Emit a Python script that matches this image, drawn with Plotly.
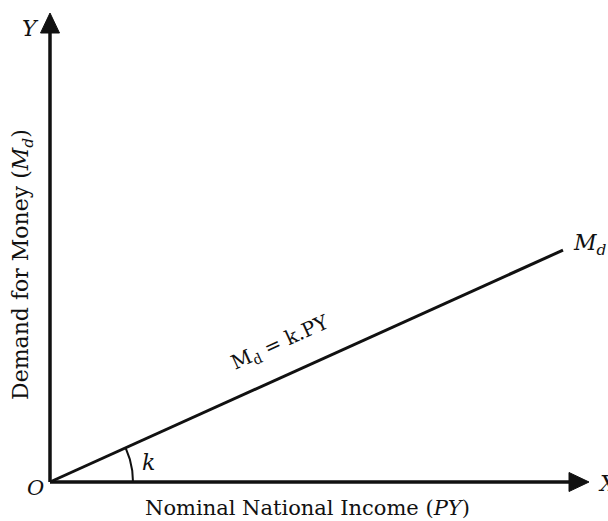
import numpy as np
import plotly.graph_objects as go

# ---- data ----
income = [0, 513]          # Nominal National Income (PY)
k_value = 0.452            # slope k
demand = [k_value * v for v in income]   # Md = k.PY
x_label = "Nominal National Income (<i>PY</i>)"
y_label = "Demand for Money (<i>M<sub>d</sub></i>)"
curve_label = "<i>M<sub>d</sub></i>"
eq_label = "M<sub>d</sub> = k.PY"

FONT = "DejaVu Serif"
BLACK = "#111111"

fig = go.Figure()

# axes lines
fig.add_trace(go.Scatter(x=[0, 0], y=[0, 452], mode="lines",
                         line=dict(color=BLACK, width=3.5), hoverinfo="skip"))
fig.add_trace(go.Scatter(x=[0, 522], y=[0, 0], mode="lines",
                         line=dict(color=BLACK, width=3.5), hoverinfo="skip"))
# arrow heads
fig.add_trace(go.Scatter(x=[-9.5, 0, 9.5, -9.5], y=[449, 469, 449, 449], mode="lines",
                         fill="toself", fillcolor=BLACK, line=dict(color=BLACK, width=1),
                         hoverinfo="skip"))
fig.add_trace(go.Scatter(x=[519, 539, 519, 519], y=[-9.5, 0, 9.5, -9.5], mode="lines",
                         fill="toself", fillcolor=BLACK, line=dict(color=BLACK, width=1),
                         hoverinfo="skip"))

# Md line
fig.add_trace(go.Scatter(x=income, y=demand, mode="lines",
                         line=dict(color=BLACK, width=3), hoverinfo="skip"))

# angle arc
theta = np.linspace(0, np.arctan(k_value), 40)
r = 83
fig.add_trace(go.Scatter(x=r * np.cos(theta), y=r * np.sin(theta), mode="lines",
                         line=dict(color=BLACK, width=2), hoverinfo="skip"))

ann = [
    dict(x=-20, y=454, text="<i>Y</i>", font=dict(size=22)),
    dict(x=-15, y=-6, text="<i>O</i>", font=dict(size=21)),
    dict(x=546, y=-1, text="<i>X</i>", font=dict(size=22), xanchor="left"),
    dict(x=98, y=20, text="<i>k</i>", font=dict(size=22)),
    dict(x=income[-1] + 8, y=demand[-1] + 6, text=curve_label, font=dict(size=22), xanchor="left"),
    dict(x=230, y=139, text=eq_label, font=dict(size=20),
         textangle=-np.degrees(np.arctan(k_value))),
    dict(x=257, y=-26, text=x_label, font=dict(size=21)),
    dict(x=-28, y=217, text=y_label, font=dict(size=22), textangle=-90),
]
for a in ann:
    a.setdefault("xanchor", "center")
    a["yanchor"] = "middle"
    a["showarrow"] = False
    a["font"] = dict(family=FONT, color=BLACK, size=a["font"]["size"])
    fig.add_annotation(**a)

fig.update_layout(
    width=608, height=521,
    margin=dict(l=0, r=0, t=0, b=0, autoexpand=False),
    paper_bgcolor="white", plot_bgcolor="white",
    showlegend=False,
    xaxis=dict(range=[-50, 558], visible=False, fixedrange=True),
    yaxis=dict(range=[-39, 482], visible=False, fixedrange=True),
)

fig.write_html("out.html", config=dict(displayModeBar=False),
               post_script="document.body.style.margin='0';document.body.style.overflow='hidden';")
